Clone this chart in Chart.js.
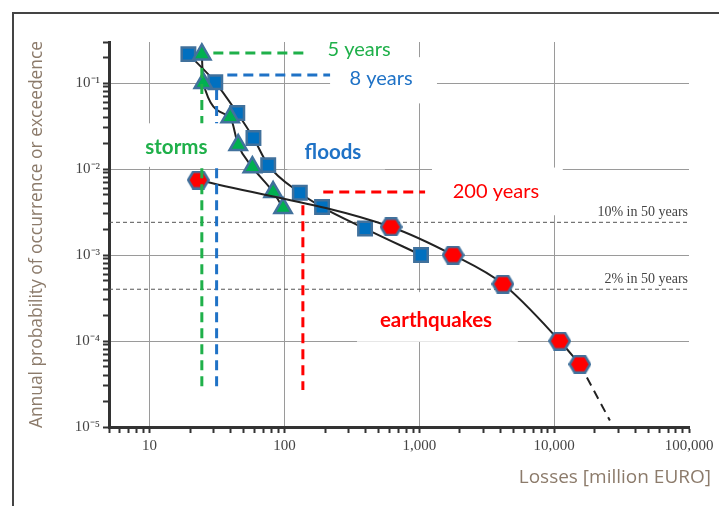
<!DOCTYPE html>
<html>
<head>
<meta charset="utf-8">
<script src="https://cdn.jsdelivr.net/npm/chart.js@4.4.1/dist/chart.umd.min.js"></script>
<style>
  html, body { margin: 0; padding: 0; background: #fff; overflow: hidden; }
  #wrap { width: 719px; height: 506px; }
</style>
</head>
<body>
<div id="wrap"><canvas id="chart" width="719" height="506"></canvas></div>
<script>
// axis ranges and tick labels
const xMin = 5, xMax = 100000;
const yMin = 1e-5, yMax = 0.3;
const xMajorTicks = [10, 100, 1000, 10000, 100000];
const xTickLabels = ['10', '100', '1,000', '10,000', '100,000'];
const yMajorTicks = [1e-5, 1e-4, 1e-3, 1e-2, 1e-1];
const yTickLabels = ['10⁻⁵', '10⁻⁴', '10⁻³', '10⁻²', '10⁻¹'];

// loss (million EURO) vs annual probability
const floodLoss = [19.4, 30.7, 44.7, 58.9, 75.8, 130, 190, 396, 1030];
const floodProb = [0.217, 0.102, 0.0448, 0.0229, 0.0111, 0.0053, 0.00361, 0.00203, 0.001];
const stormLoss = [24.4, 25, 39.6, 45.4, 57.8, 82.4, 97.7];
const stormProb = [0.215, 0.1, 0.04, 0.019, 0.0105, 0.0054, 0.00352];
const quakeLoss = [23, 617, 1780, 4170, 11000, 15500];
const quakeProb = [0.00745, 0.00212, 0.001, 0.00046, 0.0001, 0.0000536];
const quakeTailLoss = [15500, 18400, 25900];
const quakeTailProb = [0.0000536, 0.0000325, 0.0000119];

// "x% in 50 years" reference levels
const refLabels = ['10% in 50 years', '2% in 50 years'];
const refProb = [0.0024, 0.0004];

// return period marker lines
const periodProb = [0.223, 0.124, 0.0054];
const periodFrom = [29.7, 37.7, 194];
const periodTo = [142, 218, 1104];
const dropLoss = [24.4, 24.4, 31.4, 31.4, 137];
const dropTop = [0.15, 0.0102, 0.083, 0.0102, 0.0038];
const dropBottom = [0.034, 0.000029, 0.034, 0.000027, 0.000027];

// labels on the plot
const noteText = ['5 years', '8 years', 'storms', 'floods', '200 years', 'earthquakes'];
const noteLoss = [357, 520, 15.8, 229, 3700, 1330];
const noteProb = [0.248, 0.112, 0.018, 0.0158, 0.0054, 0.000176];

// white label backgrounds that break the grid
const maskLossFrom = [218, 6.6, 105, 1242, 345];
const maskLossTo = [1352, 34.6, 556, 11590, 5380];
const maskProbTop = [0.2, 0.034, 0.0325, 0.0104, 0.00037];
const maskProbBottom = [0.058, 0.0106, 0.0099, 0.0029, 0.000098];

const GREEN = '#1fb04a', BLUE = '#1f72c6', RED = '#ff0000', EDGE = '#41719c';
const periodColor = [GREEN, BLUE, RED];
const dropColor = [GREEN, GREEN, BLUE, BLUE, RED];
const noteColor = [GREEN, BLUE, GREEN, BLUE, RED, RED];
const noteBold = [false, false, true, true, false, true];

function pts(xs, ys) {
  return xs.map((x, i) => ({ x: x, y: ys[i] }));
}

function logTicks(from, to) {
  const out = [];
  for (let d = Math.floor(Math.log10(from)); d <= Math.ceil(Math.log10(to)); d++) {
    for (let k = 1; k < 10; k++) {
      const v = +(k * Math.pow(10, d)).toPrecision(3);
      if (v >= from * 0.999 && v <= to * 1.001) out.push(v);
    }
  }
  return out;
}

function majorIndex(list, v) {
  return list.findIndex(m => Math.abs(m - v) / m < 1e-6);
}

function hexagon(w, h, fill, stroke, lw) {
  const c = document.createElement('canvas');
  c.width = w; c.height = h;
  const g = c.getContext('2d');
  const m = lw / 2;
  g.beginPath();
  g.moveTo(m, h / 2);
  g.lineTo(w * 0.27, m);
  g.lineTo(w * 0.73, m);
  g.lineTo(w - m, h / 2);
  g.lineTo(w * 0.73, h - m);
  g.lineTo(w * 0.27, h - m);
  g.closePath();
  g.fillStyle = fill;
  g.fill();
  g.lineWidth = lw;
  g.strokeStyle = stroke;
  g.stroke();
  return c;
}

const datasets = [];

refProb.forEach(p => {
  datasets.push({
    data: [{ x: xMin, y: p }, { x: xMax, y: p }],
    borderColor: '#555', borderWidth: 1, borderDash: [4, 3],
    pointRadius: 0, order: 20
  });
});

datasets.push({
  label: 'floods',
  data: pts(floodLoss, floodProb),
  borderColor: '#222', borderWidth: 2, cubicInterpolationMode: 'monotone',
  pointStyle: 'rect', pointRadius: 9.5, pointBackgroundColor: '#0070c0',
  pointBorderColor: EDGE, pointBorderWidth: 2.5, order: 12
});
datasets.push({
  label: 'storms',
  data: pts(stormLoss, stormProb),
  borderColor: '#222', borderWidth: 2, cubicInterpolationMode: 'monotone',
  pointStyle: 'triangle', pointRadius: 10, pointBackgroundColor: '#00b050',
  pointBorderColor: EDGE, pointBorderWidth: 2.5, order: 11
});
datasets.push({
  label: 'earthquakes tail',
  data: pts(quakeTailLoss, quakeTailProb),
  borderColor: '#222', borderWidth: 2, borderDash: [9, 6],
  cubicInterpolationMode: 'monotone', pointRadius: 0, order: 13
});
datasets.push({
  label: 'earthquakes',
  data: pts(quakeLoss, quakeProb),
  borderColor: '#222', borderWidth: 2, cubicInterpolationMode: 'monotone',
  pointStyle: hexagon(23, 19, RED, EDGE, 2.5), pointRadius: 10, order: 10
});

periodProb.forEach((p, i) => {
  datasets.push({
    data: [{ x: periodFrom[i], y: p }, { x: periodTo[i], y: p }],
    borderColor: periodColor[i], borderWidth: 3, borderDash: [10, 6],
    pointRadius: 0, order: 1
  });
});
dropLoss.forEach((x, i) => {
  datasets.push({
    data: [{ x: x, y: dropTop[i] }, { x: x, y: dropBottom[i] }],
    borderColor: dropColor[i], borderWidth: 3, borderDash: [10, 6],
    pointRadius: 0, order: 1
  });
});

const decorations = {
  id: 'decorations',
  beforeDraw(chart) {
    const ctx = chart.ctx;
    ctx.save();
    ctx.strokeStyle = '#444';
    ctx.lineWidth = 2;
    ctx.strokeRect(13, 13, 800, 600);
    ctx.restore();
  },
  beforeDatasetsDraw(chart) {
    const { ctx, scales: { x, y } } = chart;
    ctx.save();
    ctx.fillStyle = '#fff';
    maskLossFrom.forEach((v, i) => {
      const x0 = x.getPixelForValue(v), x1 = x.getPixelForValue(maskLossTo[i]);
      const y0 = y.getPixelForValue(maskProbTop[i]), y1 = y.getPixelForValue(maskProbBottom[i]);
      ctx.fillRect(x0, y0, x1 - x0, y1 - y0);
    });
    ctx.restore();
  },
  afterDatasetsDraw(chart) {
    const { ctx, scales: { x, y } } = chart;
    ctx.save();
    ctx.textAlign = 'center';
    ctx.textBaseline = 'middle';
    noteText.forEach((t, i) => {
      ctx.font = noteBold[i] ? 'bold 20.5px Lato' : '20px Lato';
      ctx.fillStyle = noteColor[i];
      ctx.fillText(t, x.getPixelForValue(noteLoss[i]), y.getPixelForValue(noteProb[i]));
    });
    ctx.font = '14px "Liberation Serif"';
    ctx.fillStyle = '#444';
    ctx.textAlign = 'right';
    ctx.textBaseline = 'bottom';
    refLabels.forEach((t, i) => {
      ctx.fillText(t, chart.chartArea.right - 1, y.getPixelForValue(refProb[i]) - 3);
    });
    ctx.font = '19px "Open Sans"';
    ctx.fillStyle = '#8c7b6b';
    ctx.textBaseline = 'middle';
    ctx.fillText('Losses [million EURO]', 711, 478);
    ctx.restore();
  }
};

function gridColor(list, skip) {
  return c => {
    if (!c.tick) return 'rgba(0,0,0,0)';
    const v = c.tick.value;
    if (skip.indexOf(v) >= 0) return 'rgba(0,0,0,0)';
    return majorIndex(list, v) >= 0 ? '#9a9a9a' : 'rgba(0,0,0,0)';
  };
}

new Chart(document.getElementById('chart'), {
  type: 'line',
  data: { datasets: datasets },
  plugins: [decorations],
  options: {
    responsive: false,
    animation: false,
    events: [],
    layout: { padding: { left: 0, right: 30, top: 42, bottom: 0 } },
    plugins: { legend: { display: false }, tooltip: { enabled: false } },
    elements: { line: { fill: false }, point: { hoverRadius: 0 } },
    scales: {
      x: {
        type: 'logarithmic', min: xMin, max: xMax,
        afterBuildTicks(s) { s.ticks = logTicks(xMin, xMax).map(v => ({ value: v })); },
        afterFit(s) { s.height = 79; },
        border: { display: true, color: '#333', width: 3 },
        grid: {
          color: gridColor(xMajorTicks, [xMax]),
          lineWidth: 1, tickColor: '#333', tickWidth: 2, tickLength: 6
        },
        ticks: {
          autoSkip: false, maxRotation: 0, padding: 4, color: '#444',
          font: { family: 'Liberation Serif', size: 15 },
          callback: v => { const i = majorIndex(xMajorTicks, v); return i >= 0 ? xTickLabels[i] : ''; }
        }
      },
      y: {
        type: 'logarithmic', min: yMin, max: yMax,
        afterBuildTicks(s) { s.ticks = logTicks(yMin, yMax).map(v => ({ value: v })); },
        afterFit(s) { s.width = 109; },
        border: { display: true, color: '#333', width: 3 },
        grid: {
          color: gridColor(yMajorTicks, [yMin]),
          lineWidth: 1, tickColor: '#333', tickWidth: 2, tickLength: 6
        },
        ticks: {
          autoSkip: false, padding: 3, color: '#444',
          font: { family: 'Liberation Serif', size: 15 },
          callback: v => { const i = majorIndex(yMajorTicks, v); return i >= 0 ? yTickLabels[i] : ''; }
        },
        title: {
          display: true, text: 'Annual probability of occurrence or exceedence',
          color: '#8c7b6b', font: { family: 'Open Sans', size: 17.4 },
          padding: { top: 26.5, bottom: 0 }
        }
      }
    }
  }
});
</script>
</body>
</html>
